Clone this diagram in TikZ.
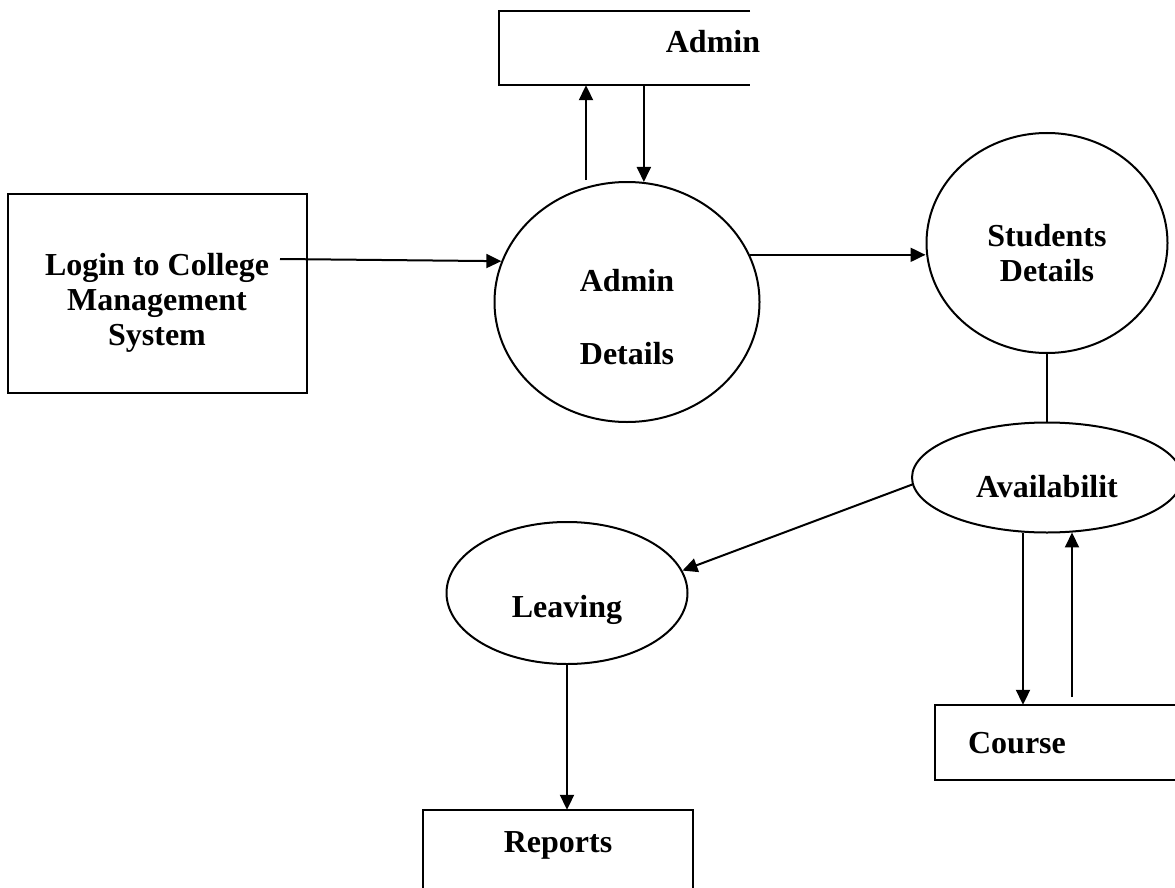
\documentclass[tikz,border=0pt]{standalone}
\usepackage{fontspec}
\setmainfont{Liberation Serif}
\usetikzlibrary{arrows.meta,shapes.geometric,positioning}
\tikzstyle{el} = [ellipse, draw=black, line width=2pt, inner sep=0pt]
\tikzstyle{bx} = [rectangle, inner sep=0pt]
\tikzstyle{tx} = [font=\bfseries\fontsize{32}{35}\selectfont, align=center, inner sep=0pt, anchor=base]
\tikzstyle{ar} = [-{Triangle[length=15pt,width=14pt]}, line width=2pt]
\tikzstyle{ln} = [line width=2pt]

\begin{document}
\begin{tikzpicture}[x=1pt, y=-1pt]
		\useasboundingbox (0,0) rectangle (1175,888);
		\clip (0,0) rectangle (1175,888);

		\node[bx, draw, line width=2pt, minimum width=299pt, minimum height=199pt] (login) at (157.5,293.5) {};
		\node[bx, minimum width=251pt, minimum height=74pt] (adminbox) at (624.5,48) {};
		\node[bx, minimum width=240pt, minimum height=75pt] (course) at (1055,742.5) {};
		\node[bx, minimum width=270pt, minimum height=78pt] (reports) at (558,849) {};

		\node[el, minimum width=265pt, minimum height=240pt] (addet) at (627,302) {};
		\node[el, minimum width=241pt, minimum height=220pt] (stdet) at (1047,243) {};
		\node[el, minimum width=270pt, minimum height=110pt] (avail) at (1047,477.5) {};
		\node[el, minimum width=241pt, minimum height=142pt] (leave) at (567,593) {};

		\draw[ln] (adminbox.north east) -- (adminbox.north west) -- (adminbox.south west) -- (adminbox.south east);
		\draw[ln] (course.north east) -- (course.north west) -- (course.south west) -- (course.south east);
		\draw[ln] (reports.south west) -- (reports.north west) -- (reports.north east) -- (reports.south east);

		% base of a multi-line node is its last line
		\node[tx] (admintx) at (713,53) {Admin};
		\node[tx] (logintx) at (157,345) {Login to College\\Management\\System};
		\node[tx] (addettx) at (627,364) {Admin\\[38pt]Details};
		\node[tx] (stdettx) at (1047,281) {Students\\Details};
		\node[tx] (availtx) at (1047,497) {Availabilit};
		\node[tx] (leavetx) at (567,617) {Leaving};
		\node[tx] (coursetx) at (1017,753) {Course};
		\node[tx] (reportstx) at (558,852) {Reports};

		\coordinate (lgo) at (280,259);
		\coordinate (aup) at (586,180);
		\coordinate (cup) at (1072,697);
		\coordinate (cdn) at (1023,600);

		\draw[ar] (lgo) -- (addet.162);
		\draw[ar] (aup) -- (aup |- adminbox.south);
		\draw[ar] (addet.82 |- adminbox.south) -- (addet.82);
		\draw[ar] (addet.21) -- (addet.21 -| stdet.west);
		\draw[ln] (stdet.south) -- (avail.north);
		\draw[ar] (avail.183) -- (leave.11);
		\draw[ar] (cdn |- avail.246) -- (cdn |- course.north);
		\draw[ar] (cup) -- (cup |- avail.295);
		\draw[ar] (leave.south) -- (leave.south |- reports.north);
	\end{tikzpicture}
\end{document}
